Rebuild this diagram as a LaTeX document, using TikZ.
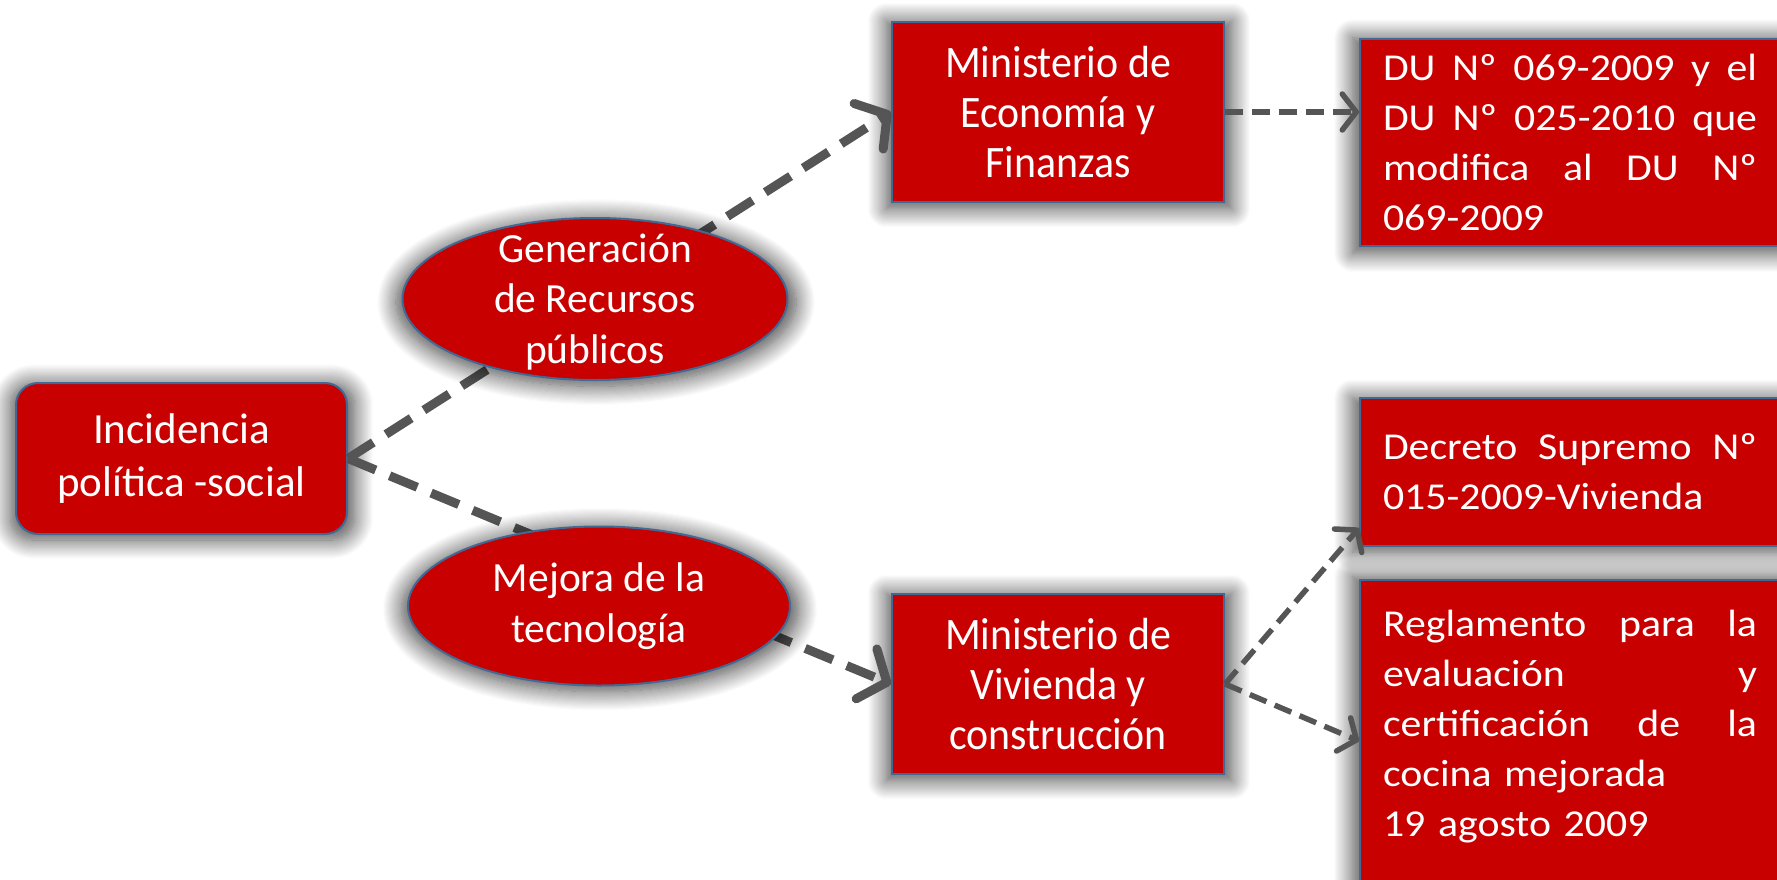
\documentclass[tikz,border=0pt]{standalone}
\usepackage{fontspec}
\setmainfont{Carlito}
\newfontfamily\narrowfont[FakeStretch=0.93]{Carlito}
\newfontfamily\widefont[FakeStretch=1.1]{Carlito}
\usetikzlibrary{arrows.meta,shapes.geometric,shadows.blur}
\definecolor{boxred}{RGB}{200,0,0}
\definecolor{edgeblue}{RGB}{65,105,150}
\definecolor{arrowgray}{RGB}{85,85,85}
\newcommand{\jline}[1]{\leavevmode\hbox to 374pt{#1}}
\begin{document}
\begin{tikzpicture}[x=1pt,y=-1pt,
  every node/.style={font=\fontsize{42}{50}\selectfont, text=white},
  glow/.style={blur shadow={shadow xshift=1pt, shadow yshift=-3pt, shadow scale=1.04, shadow blur radius=18pt, shadow opacity=72, shadow blur steps=18}},
  redbox/.style={draw=edgeblue, line width=2pt, fill=boxred, glow, inner sep=0pt, align=center},
  minbox/.style={redbox, font=\narrowfont\fontsize{45}{50}\selectfont, minimum width=332pt, minimum height=180pt},
  textbox/.style={redbox, font=\widefont\fontsize{38}{50}\selectfont, align=left, text width=374pt, minimum width=420pt},
  oval/.style={ellipse, draw=edgeblue, line width=2pt, fill=boxred, glow, inner sep=0pt},
  ovaltext/.style={align=center, inner sep=0pt, font=\fontsize{41.5}{50.5}\selectfont},
  thickarrow/.style={draw=arrowgray, line width=9pt, dash pattern=on 30pt off 15pt, -{Straight Barb[length=22pt,width=54pt,round]}},
  thinarrow/.style={draw=arrowgray, line width=5.5pt, dash pattern=on 18pt off 9pt, -{Straight Barb[length=14pt,width=36pt,round]}},
]
\useasboundingbox (0,0) rectangle (1777,879);
\clip (0,0) rectangle (1777,879);

% boxes
\node[redbox, rounded corners=22pt, minimum width=331pt, minimum height=151pt, font=\fontsize{43}{53}\selectfont] (inc) at (181.5,458.5) {Incidencia\\política -social};
\node[minbox] (eco) at (1058,112) {Ministerio de\\Economía y\\Finanzas};
\node[minbox] (viv) at (1058,684) {Ministerio de\\Vivienda y\\construcción};
\node[textbox, minimum height=207pt] (du) at (1570,142.5) {%
\jline{DU\hfill Nº\hfill 069-2009\hfill y\hfill el}\\
\jline{DU\hfill Nº\hfill 025-2010\hfill que}\\
\jline{modifica\hfill al\hfill DU\hfill Nº}\\
069-2009};
\node[textbox, minimum height=148pt] (dec) at (1570,472) {%
\jline{Decreto\hfill Supremo\hfill Nº}\\
015-2009-Vivienda};
\node[textbox, minimum height=320pt] (reg) at (1570,740) {%
\jline{Reglamento\hfill para\hfill la}\\
\jline{evaluación\hfill y}\\
\jline{certificación\hfill de\hfill la}\\
cocina mejorada\\
19 agosto 2009\rule[-34pt]{0pt}{34pt}};

% connectors
\draw[thickarrow] (inc.east) -- (eco.west);
\draw[thickarrow] (inc.east) -- (viv.west);
\draw[thinarrow] (eco.east) -- (eco.east -| du.west);
\draw[thinarrow] (viv.east) -- ([yshift=19pt]dec.south west);
\draw[thinarrow] (viv.east) -- ([yshift=-162pt]reg.north west);

% ellipses on top
\node[oval, minimum width=385pt, minimum height=162pt] (gen) at (595,299) {};
\node[ovaltext] (gentext) at ([yshift=-3pt]gen.center) {Generación\\de Recursos\\públicos};
\node[oval, minimum width=382pt, minimum height=159pt] (mej) at (599,606) {};
\node[ovaltext] (mejtext) at (mej.center) {Mejora de la\\tecnología};
\end{tikzpicture}
\end{document}
